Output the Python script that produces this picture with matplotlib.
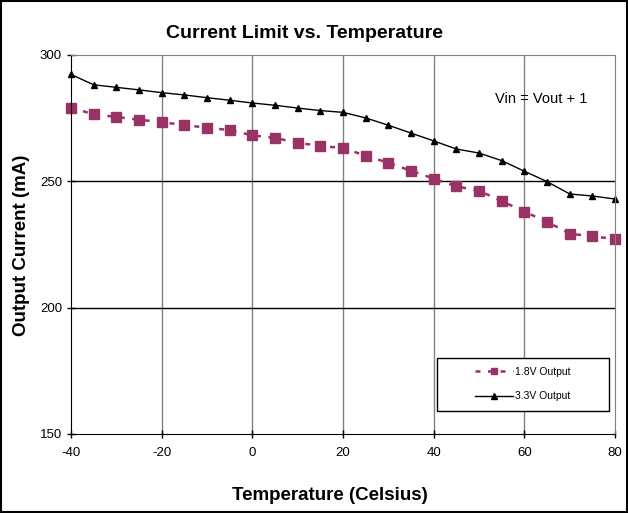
import matplotlib.pyplot as plt
from matplotlib.patches import Rectangle

plt.rcParams['font.family'] = ['Liberation Sans', 'DejaVu Sans']
plt.rcParams['axes.unicode_minus'] = False

temps = [-40, -35, -30, -25, -20, -15, -10, -5, 0, 5, 10, 15, 20,
         25, 30, 35, 40, 45, 50, 55, 60, 65, 70, 75, 80]
out_18v = [279.2, 276.5, 275.5, 274.4, 273.4, 272.3, 271.2, 270.3, 268.2,
           267.2, 265.2, 264.1, 263.1, 260.2, 257.3, 254.2, 251.1, 248.0,
           246.3, 242.2, 238.0, 234.0, 229.3, 228.2, 227.2]
out_33v = [292.3, 288.2, 287.2, 286.2, 285.1, 284.2, 283.1, 282.1, 281.0,
           280.1, 279.0, 278.0, 277.3, 275.1, 272.2, 269.1, 266.0, 262.8,
           261.2, 258.2, 254.0, 249.9, 245.0, 244.2, 243.0]
x_ticks = [-40, -20, 0, 20, 40, 60, 80]
y_ticks = [150, 200, 250, 300]

fig = plt.figure(figsize=(6.28, 5.13), dpi=100)
ax = fig.add_axes([71 / 628, 79 / 513, 544 / 628, 379 / 513])

# gridlines: vertical gray, horizontal black
for x in x_ticks[1:-1]:
    ax.axvline(x, color='#808080', lw=1, zorder=0)
for y in y_ticks[1:-1]:
    ax.axhline(y, color='black', lw=1, zorder=0)

ax.plot(temps, out_18v, color='#993366', ls=(0, (2, 3)), lw=1.8,
        marker='s', markersize=6.5, label='1.8V Output', clip_on=False)
ax.plot(temps, out_33v, color='black', lw=1,
        marker='^', markersize=5, label='3.3V Output', clip_on=False)

ax.set_xlim(-40, 80)
ax.set_ylim(150, 300)
ax.set_xticks(x_ticks)
ax.set_yticks(y_ticks)
ax.tick_params(direction='inout', length=6, labelsize=9.5, width=1)
ax.tick_params(axis='x', pad=6)
for side in ['top', 'right']:
    ax.spines[side].set_color('#808080')
for side in ['left', 'bottom']:
    ax.spines[side].set_color('black')

ax.text(0.78, 0.885, 'Vin = Vout + 1', transform=ax.transAxes,
        fontsize=10.5, va='center')

# legend box drawn separately so it can be wider than its content
ax.add_patch(Rectangle(((437 - 71) / 544, 23 / 379), 172 / 544, 53 / 379,
                       transform=ax.transAxes, facecolor='white',
                       edgecolor='black', lw=1, zorder=4))
leg = ax.legend(loc='center left',
                bbox_to_anchor=((475 - 71) / 544, (434 - 384) / 379),
                fontsize=7.5, frameon=False, borderpad=0, labelspacing=1.4,
                handlelength=3.6, handletextpad=0.2, borderaxespad=0,
                markerscale=0.75)
leg.set_zorder(5)

fig.text(305 / 628, 1 - 34 / 513, 'Current Limit vs. Temperature',
         fontsize=14, fontweight='bold', ha='center', va='center')
fig.text(22 / 628, 1 - 245 / 513, 'Output Current (mA)', rotation=90,
         fontsize=13.5, fontweight='bold', ha='center', va='center')
fig.text(330 / 628, 1 - 495 / 513, 'Temperature (Celsius)',
         fontsize=13.5, fontweight='bold', ha='center', va='center')

fig.patches.append(Rectangle((0.002, 0.002), 0.996, 0.996, fill=False,
                             edgecolor='black', lw=1.5,
                             transform=fig.transFigure))

fig.savefig('out.png', dpi=100)
